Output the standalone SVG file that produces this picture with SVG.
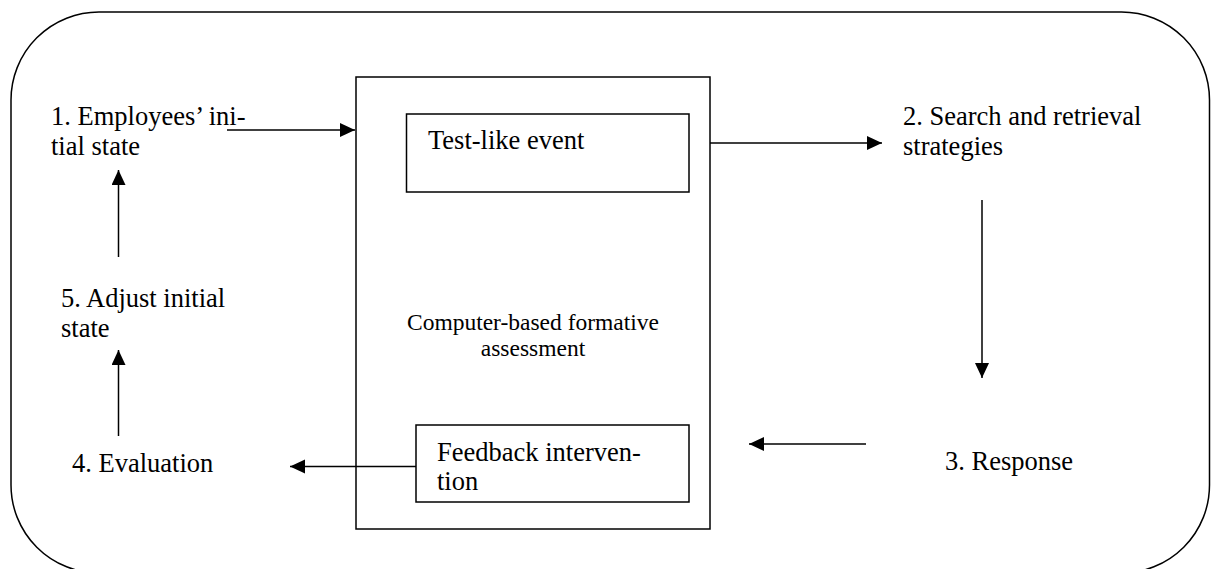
<svg xmlns="http://www.w3.org/2000/svg" width="1211" height="569" viewBox="0 0 1211 569">
<style>
text{font-family:"Times New Roman","Liberation Serif",Tinos,"DejaVu Serif",serif;fill:#000}
.t{font-size:26.5px}
.s{font-size:23.5px}
.box{fill:none;stroke:#000;stroke-width:1.5}
.ln{fill:none;stroke:#000;stroke-width:1.5;marker-end:url(#ah)}
</style>
<defs>
<marker id="ah" markerUnits="userSpaceOnUse" markerWidth="16" markerHeight="16" refX="15" refY="7" orient="auto">
<path d="M0,0 L15,7 L0,14 Z" fill="#000"/>
</marker>
</defs>
<g id="frame"><rect class="box" x="11" y="12" width="1198.5" height="561" rx="88" ry="88"/></g>
<g id="cbfa">
<rect class="box" x="356" y="77" width="354" height="452"/>
<text class="s" text-anchor="middle" x="533" y="330">Computer-based formative</text>
<text class="s" text-anchor="middle" x="533" y="356">assessment</text>
</g>
<g id="test"><rect class="box" x="406.5" y="114" width="282.5" height="78"/>
<text class="t" x="428" y="149">Test-like event</text></g>
<g id="feedback"><rect class="box" x="416" y="425" width="273" height="77"/>
<text class="t" x="437" y="461">Feedback interven-</text>
<text class="t" x="437" y="490">tion</text></g>
<g id="n1"><text class="t" x="51" y="125">1. Employees’ ini-</text><text class="t" x="51" y="155">tial state</text></g>
<g id="n2"><text class="t" x="903" y="125">2. Search and retrieval</text><text class="t" x="903" y="155">strategies</text></g>
<g id="n3"><text class="t" x="945" y="470">3. Response</text></g>
<g id="n4"><text class="t" x="72" y="471.5">4. Evaluation</text></g>
<g id="n5"><text class="t" x="61" y="306.5">5. Adjust initial</text><text class="t" x="61" y="336.5">state</text></g>
<g id="connectors">
<line class="ln" x1="227" y1="130" x2="355" y2="130"/>
<line class="ln" x1="710" y1="143" x2="882" y2="143"/>
<line class="ln" x1="982" y1="200" x2="982" y2="378"/>
<line class="ln" x1="866" y1="444" x2="749" y2="444"/>
<line class="ln" x1="416" y1="466.5" x2="290" y2="466.5"/>
<line class="ln" x1="118.5" y1="436" x2="118.5" y2="350"/>
<line class="ln" x1="118.5" y1="257" x2="118.5" y2="170"/>
</g>
</svg>
